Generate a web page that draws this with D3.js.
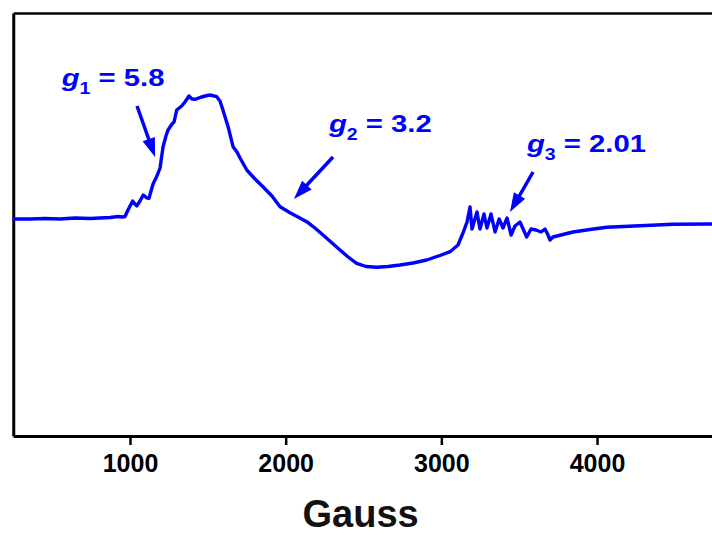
<!DOCTYPE html>
<html>
<head>
<meta charset="utf-8">
<script src="https://cdn.jsdelivr.net/npm/d3@7"></script>
<style>
  html, body { margin: 0; padding: 0; background: #fff; }
  svg { display: block; }
</style>
</head>
<body>
<script>
// ---- Data (EPR spectrum, arbitrary intensity units) ----
const gauss = [255, 358, 454, 550, 647, 743, 807, 872, 923, 949, 968, 987,
  1017, 1043, 1064, 1085, 1109, 1122, 1148, 1173, 1193, 1212, 1231, 1244, 1270, 1283,
  1300, 1332, 1353, 1379, 1398, 1418, 1450, 1482, 1514, 1557, 1578, 1597, 1630, 1662,
  1687, 1707, 1750, 1803, 1854, 1912, 1964, 2028, 2079, 2135, 2188, 2240, 2298, 2349,
  2401, 2456, 2516, 2585, 2657, 2734, 2818, 2906, 2991, 3056, 3107, 3139,
  3165, 3184, 3197, 3210, 3229, 3248, 3274, 3293, 3319, 3345, 3371, 3396, 3422, 3448,
  3473, 3505, 3531, 3548, 3576, 3608, 3640, 3666, 3685, 3698, 3717, 3743, 3794, 3846,
  3955, 4062, 4276, 4488, 4739];
const signal = [-1, -1, -0.5, -1, 0, -0.5, 0, 0.5, 1.5, 1, 1.5, 8,
  17, 12, 17, 23, 20, 19.7, 34, 42, 50, 71, 82, 88, 94, 96,
  108, 112, 116, 122, 119, 118.7, 120.5, 122, 123, 121.3, 117, 108, 91.3, 71.3,
  66, 60, 48, 39, 31.3, 22, 11.3, 5.3, 1, -3.7, -10, -17, -25, -32,
  -39, -45.3, -48.5, -49.3, -48.5, -47, -45, -42, -37.5, -33.7, -27, -15,
  -4, 11, -11, -4, 6, -11, 4, -10, 4, -14, -1, -10, 0, -17,
  -8, -4, -13, -19, -11, -12, -14, -11, -17, -22, -19, -18, -16, -14,
  -11.5, -9.3, -7.7, -6.3, -6];
const xTicks = [1000, 2000, 3000, 4000];
const xLabel = "Gauss";

// annotations: g_i = value, text anchor (data coords) and arrow (tail -> tip)
const annoSub = ["1", "2", "3"];
const annoValue = ["5.8", "3.2", "2.01"];
const annoX = [561, 2278, 3550];
const annoY = [132, 86, 66];
const arrowX0 = [1045, 2304, 3589];
const arrowY0 = [112, 61, 46];
const arrowX1 = [1161, 2053, 3441];
const arrowY1 = [61, 19, 6];

// ---- Chart ----
const W = 712, H = 535;
const blue = "#0000ff";
const font = "'Liberation Sans', Arial, sans-serif";
const svg = d3.select("body").append("svg").attr("width", W).attr("height", H);

const x = d3.scaleLinear().domain([250, 5000]).range([13.25, 752.7]);
const y = d3.scaleLinear().domain([-218, 205]).range([436, 13]);

// frame: left and top
svg.append("g").attr("transform", `translate(${x(250)},0)`)
  .call(d3.axisLeft(y).tickValues([]).tickSizeOuter(0))
  .call(g => g.select(".domain").attr("stroke", "#000").attr("stroke-width", 3));
svg.append("g").attr("transform", `translate(0,${y(205)})`)
  .call(d3.axisTop(x).tickValues([]).tickSizeOuter(0))
  .call(g => g.select(".domain").attr("stroke", "#000").attr("stroke-width", 2.5));

// bottom axis
const xAxis = svg.append("g").attr("transform", `translate(0,${y(-218)})`)
  .call(d3.axisBottom(x).tickValues(xTicks).tickSize(9).tickSizeOuter(0).tickPadding(9)
    .tickFormat(d3.format("d")));
xAxis.select(".domain").attr("stroke", "#000").attr("stroke-width", 3);
xAxis.selectAll(".tick line").attr("stroke", "#000").attr("stroke-width", 2.5);
xAxis.selectAll(".tick text")
  .attr("fill", "#000")
  .style("font-family", font)
  .style("font-weight", "bold")
  .style("font-size", "25px");

svg.append("text")
  .attr("x", (x(250) + 712) / 2 - 2)
  .attr("y", 527)
  .attr("text-anchor", "middle")
  .style("font-family", font)
  .style("font-weight", "bold")
  .style("font-size", "38px")
  .attr("fill", "#111")
  .text(xLabel);

// spectrum line
const line = d3.line().x((d, i) => x(gauss[i])).y(d => y(d));
svg.append("path")
  .attr("d", line(signal))
  .attr("fill", "none")
  .attr("stroke", blue)
  .attr("stroke-width", 3.4)
  .attr("stroke-linejoin", "round")
  .attr("stroke-linecap", "round");

// annotations
annoSub.forEach((s, i) => {
  const g = svg.append("g")
    .attr("transform", `translate(${x(annoX[i])},${y(annoY[i])}) scale(1.22,1)`);
  const t = g.append("text")
    .attr("fill", blue)
    .style("font-family", font)
    .style("font-weight", "bold")
    .style("font-size", "24px");
  t.append("tspan").style("font-style", "italic").text("g");
  t.append("tspan").attr("dy", 8).style("font-size", "16px").text(s);
  t.append("tspan").attr("dy", -8).text(" = " + annoValue[i]);

  // arrow
  const x0 = x(arrowX0[i]), y0 = y(arrowY0[i]);
  const x1 = x(arrowX1[i]), y1 = y(arrowY1[i]);
  const dx = x1 - x0, dy = y1 - y0, len = Math.hypot(dx, dy);
  const ux = dx / len, uy = dy / len;
  const hl = 19, hw = 6.5;
  const bx = x1 - ux * hl, by = y1 - uy * hl;
  svg.append("line")
    .attr("x1", x0).attr("y1", y0).attr("x2", bx + ux * 2).attr("y2", by + uy * 2)
    .attr("stroke", blue).attr("stroke-width", 3.5);
  svg.append("path")
    .attr("d", `M${x1},${y1}L${bx - uy * hw},${by + ux * hw}L${bx + uy * hw},${by - ux * hw}Z`)
    .attr("fill", blue);
});
</script>
</body>
</html>
